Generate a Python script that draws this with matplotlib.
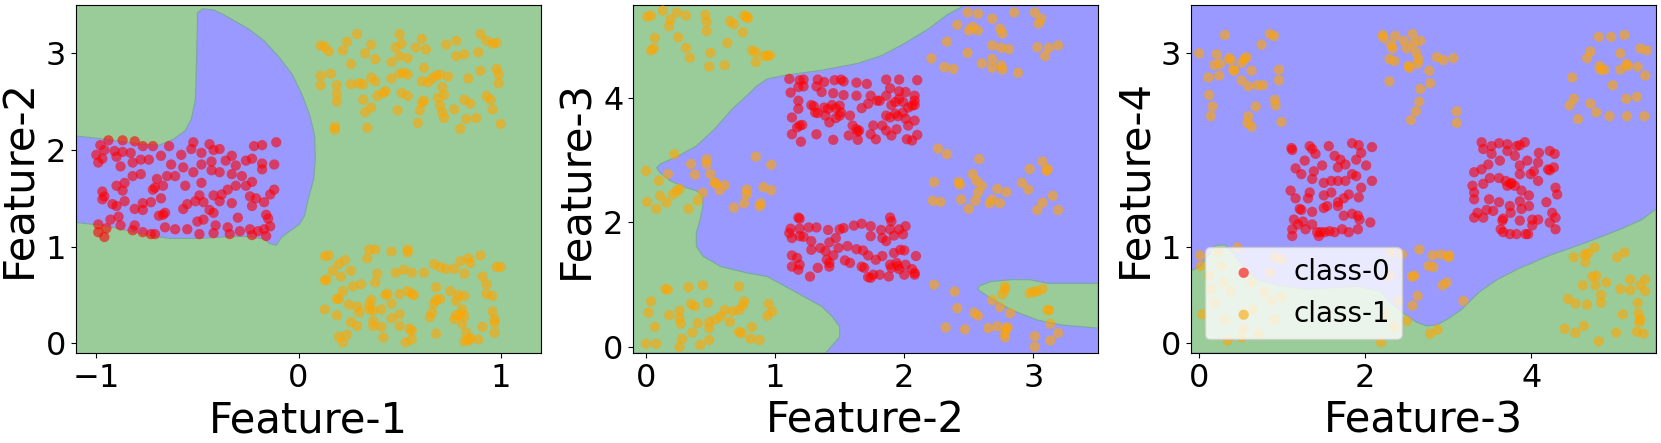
import numpy as np
import matplotlib
matplotlib.use("Agg")
import matplotlib.pyplot as plt

# --- colours ---
GREEN_BG = '#99cc99'   # green at alpha 0.4
BLUE_BG = '#9999ff'    # blue at alpha 0.4
EDGE = '#7aa8a0'

# ---------------- panel 1: Feature-1 vs Feature-2 ----------------
p1_red = [(-0.98,2.05),(-0.94,2.10),(-0.96,2.00),(-1.00,1.95),(-0.99,1.87),(-0.97,1.91),(-0.91,1.99),
          (-0.90,1.93),(-0.87,2.10),(-0.87,1.98),(-0.83,1.97),(-0.81,2.09),(-0.77,2.04),(-0.72,2.04),
          (-0.88,1.83),(-0.82,1.87),(-0.78,1.90),(-0.74,1.90),(-0.68,1.94),(-0.63,1.85),(-0.64,2.04),
          (-0.58,1.95),(-0.53,2.01),(-0.52,2.08),(-0.48,1.97),(-0.44,2.06),(-0.42,2.00),(-0.39,2.01),
          (-0.33,1.94),(-0.36,1.89),(-0.43,1.88),(-0.48,1.85),(-0.52,1.77),(-0.57,1.82),(-0.61,1.73),
          (-0.65,1.73),(-0.70,1.70),(-0.78,1.75),(-0.82,1.73),(-0.86,1.66),(-0.90,1.63),(-0.87,1.58),
          (-0.97,1.57),(-0.97,1.49),(-0.96,1.52),(-0.92,1.44),(-0.90,1.42),(-0.86,1.47),(-0.81,1.39),
          (-0.77,1.45),(-0.73,1.46),(-0.77,1.38),(-0.71,1.61),(-0.67,1.63),(-0.66,1.35),(-0.67,1.33),
          (-0.69,1.32),(-0.57,1.39),(-0.55,1.44),(-0.51,1.47),(-0.49,1.53),(-0.47,1.46),(-0.42,1.53),
          (-0.44,1.38),(-0.39,1.47),(-0.38,1.54),(-0.35,1.59),(-0.31,1.63),(-0.28,1.73),(-0.26,1.63),
          (-0.23,1.67),(-0.26,1.89),(-0.22,2.04),(-0.18,2.05),(-0.23,1.91),(-0.18,1.86),(-0.18,1.80),
          (-0.12,1.85),(-0.11,2.08),(-0.24,1.52),(-0.21,1.50),(-0.17,1.46),(-0.23,1.42),(-0.14,1.54),
          (-0.12,1.59),(-0.16,1.33),(-0.15,1.29),(-0.14,1.21),(-0.17,1.18),(-0.20,1.16),(-0.16,1.11),
          (-0.24,1.18),(-0.23,1.12),(-0.29,1.16),(-0.35,1.20),(-0.34,1.13),(-0.42,1.14),(-0.41,1.22),
          (-0.49,1.13),(-0.50,1.26),(-0.47,1.28),(-0.55,1.18),(-0.61,1.18),(-0.66,1.20),(-0.71,1.13),
          (-0.73,1.13),(-0.77,1.15),(-0.81,1.22),(-0.82,1.17),(-0.88,1.22),(-0.89,1.31),(-0.93,1.28),
          (-0.99,1.23),(-0.99,1.15),(-0.96,1.10),(-0.95,1.19),(-0.30,1.30),(-0.33,1.45),(-0.42,1.35),
          (-0.56,1.63),(-0.48,1.66),(-0.43,1.79),(-0.39,1.77),(-0.33,1.75),(-0.31,1.84),(-0.72,1.59),
          (-0.68,1.50)]
p1_orange_top = [(0.29,3.20),(0.50,3.20),(0.61,3.15),(0.90,3.20),(0.78,3.13),(0.93,3.13),(0.98,3.11),
                 (0.11,3.08),(0.13,3.07),(0.15,3.02),(0.22,3.03),(0.24,3.12),(0.36,3.09),(0.33,3.00),
                 (0.38,2.94),(0.48,3.06),(0.51,3.10),(0.58,3.06),(0.63,3.04),(0.73,3.09),(0.78,2.97),
                 (0.82,2.99),(0.89,3.01),(0.96,3.10),(0.50,2.97),(0.54,2.95),(0.46,2.91),(0.26,2.89),
                 (0.62,2.85),(0.90,2.82),(0.98,2.84),(0.99,2.78),(0.11,2.77),(0.16,2.79),(0.19,2.67),
                 (0.26,2.68),(0.30,2.69),(0.32,2.68),(0.36,2.75),(0.38,2.71),(0.46,2.74),(0.50,2.79),
                 (0.52,2.80),(0.54,2.78),(0.61,2.71),(0.64,2.70),(0.66,2.74),(0.68,2.77),(0.70,2.78),
                 (0.74,2.76),(0.84,2.74),(0.99,2.69),(0.11,2.67),(0.71,2.65),(0.72,2.57),(0.69,2.54),
                 (0.42,2.59),(0.39,2.56),(0.43,2.61),(0.51,2.59),(0.54,2.56),(0.32,2.52),(0.36,2.44),
                 (0.33,2.39),(0.19,2.58),(0.19,2.50),(0.61,2.49),(0.62,2.51),(0.70,2.46),(0.77,2.42),
                 (0.85,2.48),(0.93,2.56),(0.95,2.52),(0.96,2.42),(0.49,2.41),(0.60,2.41),(0.72,2.33),
                 (0.83,2.32),(0.88,2.33),(0.59,2.28),(0.80,2.22),(0.34,2.23),(0.18,2.24),(0.18,2.21),
                 (1.00,2.27),(0.71,2.39),(0.82,2.52)]
p1_orange_bot = [(0.13,0.90),(0.15,0.91),(0.23,0.86),(0.20,0.82),(0.35,0.97),(0.38,0.97),(0.34,0.88),
                 (0.46,0.95),(0.54,0.97),(0.54,0.94),(0.39,0.72),(0.26,0.75),(0.17,0.75),(0.21,0.69),
                 (0.48,0.73),(0.52,0.76),(0.56,0.73),(0.62,0.73),(0.67,0.82),(0.70,0.79),(0.73,0.77),
                 (0.77,0.77),(0.80,0.85),(0.84,0.88),(0.85,0.83),(0.90,0.91),(0.98,0.79),(1.00,0.79),
                 (0.13,0.65),(0.14,0.66),(0.38,0.63),(0.27,0.59),(0.31,0.61),(0.68,0.58),(0.75,0.54),
                 (0.82,0.72),(0.91,0.69),(0.93,0.61),(0.22,0.54),(0.20,0.46),(0.19,0.46),(0.36,0.45),
                 (0.43,0.50),(0.44,0.51),(0.50,0.51),(0.54,0.54),(0.56,0.51),(0.57,0.50),(0.70,0.46),
                 (0.68,0.45),(0.79,0.50),(0.82,0.49),(0.93,0.51),(0.96,0.49),(0.13,0.35),(0.25,0.40),
                 (0.29,0.38),(0.35,0.40),(0.35,0.35),(0.46,0.41),(0.37,0.34),(0.41,0.35),(0.30,0.32),
                 (0.67,0.41),(0.66,0.32),(0.65,0.27),(0.78,0.44),(0.81,0.35),(0.80,0.30),(0.82,0.28),
                 (0.78,0.29),(0.96,0.33),(0.97,0.25),(0.97,0.21),(0.19,0.29),(0.26,0.22),(0.29,0.18),
                 (0.37,0.23),(0.37,0.18),(0.41,0.17),(0.50,0.30),(0.46,0.26),(0.50,0.18),(0.55,0.15),
                 (0.56,0.13),(0.77,0.25),(0.81,0.20),(0.91,0.17),(0.97,0.11),(0.20,0.07),(0.22,0.01),
                 (0.24,0.09),(0.42,0.06),(0.53,0.01),(0.56,0.04),(0.68,0.10),(0.83,0.11),(0.84,0.03),
                 (0.82,0.02),(0.89,0.04),(0.85,0.05)]
# boundary of the class-0 (blue) region
p1_blue_region = [(-1.1,2.145),(-0.95,2.11),(-0.78,2.06),(-0.69,2.05),(-0.62,2.11),(-0.56,2.20),
                  (-0.53,2.32),(-0.51,2.52),(-0.505,2.87),(-0.50,3.30),(-0.50,3.42),(-0.475,3.46),
                  (-0.42,3.45),(-0.37,3.40),(-0.245,3.25),(-0.17,3.13),(-0.10,2.97),(-0.03,2.78),
                  (0.02,2.56),(0.057,2.35),(0.08,2.145),(0.083,1.90),(0.075,1.70),(0.048,1.49),
                  (0.03,1.32),(0.004,1.23),(-0.05,1.15),(-0.085,1.095),(-0.11,1.015),(-0.14,1.03),
                  (-0.17,1.08),(-0.245,1.105),(-0.33,1.105),(-0.49,1.085),(-0.635,1.085),(-0.705,1.105),
                  (-0.81,1.15),(-0.95,1.215),(-1.1,1.25)]

# ---------------- panel 2: Feature-2 vs Feature-3 ----------------
p2_red_top = [(1.11,4.31),(1.19,4.29),(1.22,4.30),(1.33,4.30),(1.38,4.26),(1.46,4.29),(1.51,4.30),
              (1.53,4.27),(1.63,4.25),(1.71,4.23),(1.86,4.30),(1.96,4.30),(2.10,4.29),(1.12,4.09),
              (1.18,4.18),(1.22,4.19),(1.32,4.19),(1.36,4.10),(1.45,4.08),(1.53,4.05),(1.63,4.04),
              (1.74,4.04),(1.79,3.96),(1.86,4.04),(1.89,4.16),(1.96,4.11),(2.01,4.10),(2.08,4.04),
              (2.08,3.96),(1.18,3.96),(1.18,3.83),(1.28,3.89),(1.30,3.87),(1.38,3.85),(1.41,3.83),
              (1.44,3.89),(1.47,3.84),(1.50,3.88),(1.51,3.77),(1.58,3.72),(1.67,3.84),(1.72,3.91),
              (1.81,3.96),(1.90,3.89),(1.93,3.94),(1.96,3.99),(1.99,3.94),(2.03,3.85),(2.06,3.88),
              (2.08,3.89),(1.13,3.69),(1.19,3.56),(1.17,3.53),(1.21,3.57),(1.31,3.77),(1.33,3.76),
              (1.39,3.72),(1.42,3.61),(1.47,3.68),(1.50,3.72),(1.60,3.56),(1.63,3.50),(1.65,3.48),
              (1.76,3.56),(1.83,3.56),(1.86,3.72),(1.89,3.69),(1.93,3.75),(1.95,3.71),(1.99,3.77),
              (2.01,3.67),(2.03,3.56),(2.08,3.64),(1.13,3.42),(1.20,3.30),(1.32,3.42),(1.45,3.33),
              (1.57,3.40),(1.64,3.46),(1.64,3.33),(1.74,3.42),(1.78,3.34),(1.86,3.48),(1.90,3.40),
              (1.94,3.50),(2.02,3.34),(2.06,3.32),(2.10,3.41)]
p2_red_bot = [(1.18,2.08),(1.19,2.06),(1.89,2.08),(1.90,2.02),(1.12,1.90),(1.19,1.90),(1.11,1.83),
              (1.13,1.75),(1.19,1.78),(1.26,1.92),(1.32,1.92),(1.41,1.88),(1.50,1.89),(1.53,1.91),
              (1.61,1.95),(1.67,1.98),(1.74,1.94),(1.82,1.88),(1.89,1.89),(1.96,1.89),(2.01,1.94),
              (1.22,1.77),(1.28,1.70),(1.35,1.59),(1.42,1.68),(1.47,1.75),(1.49,1.59),(1.56,1.62),
              (1.63,1.57),(1.68,1.55),(1.74,1.78),(1.83,1.75),(1.86,1.70),(1.92,1.79),(1.99,1.81),
              (1.97,1.56),(1.92,1.51),(2.00,1.55),(1.13,1.47),(1.17,1.43),(1.28,1.56),(1.39,1.54),
              (1.40,1.40),(1.42,1.29),(1.45,1.47),(1.54,1.39),(1.58,1.35),(1.67,1.29),(1.72,1.47),
              (1.78,1.40),(1.83,1.46),(1.89,1.32),(1.94,1.35),(1.95,1.30),(2.01,1.32),(2.09,1.46),
              (1.13,1.29),(1.18,1.24),(1.19,1.32),(1.27,1.13),(1.33,1.27),(1.42,1.35),(1.69,1.27),
              (1.72,1.12),(1.74,1.11),(1.76,1.16),(1.81,1.16),(1.88,1.13),(1.90,1.27),(1.96,1.25),
              (2.00,1.16),(2.06,1.25),(2.08,1.16),(2.08,1.19)]
p2_orange_tl = [(0.01,5.31),(0.04,5.33),(0.13,5.41),(0.24,5.38),(0.31,5.33),(0.19,5.27),(0.18,5.16),
                (0.25,4.98),(0.07,4.97),(0.04,4.77),(0.06,4.80),(0.31,4.81),(0.34,4.65),(0.46,5.34),
                (0.47,5.23),(0.47,5.08),(0.50,4.73),(0.49,4.51),(0.61,4.53),(0.63,4.89),(0.65,5.24),
                (0.68,5.19),(0.75,5.06),(0.78,5.31),(0.79,5.29),(0.76,5.33),(0.82,4.77),(0.85,4.74),
                (0.85,4.58),(0.92,4.68),(0.94,4.68),(0.96,4.69)]
p2_orange_ml = [(0.00,2.83),(0.01,2.33),(0.10,2.67),(0.11,2.43),(0.08,2.22),(0.16,2.32),(0.17,2.78),
                (0.21,2.45),(0.22,3.10),(0.24,2.51),(0.26,2.54),(0.33,2.22),(0.35,2.94),(0.38,2.77),
                (0.40,2.35),(0.44,2.48),(0.47,3.02),(0.47,2.94),(0.50,2.78),(0.53,2.64),(0.54,2.63),
                (0.57,2.52),(0.61,2.60),(0.68,2.24),(0.76,2.31),(0.78,2.53),(0.78,2.45),(0.85,3.06),
                (0.88,2.26),(0.89,2.31),(0.91,2.57),(0.97,2.52),(0.97,2.93)]
p2_orange_bl = [(0.04,0.73),(0.02,0.55),(0.07,0.32),(0.00,0.05),(0.08,0.05),(0.15,0.93),(0.17,0.92),
                (0.18,0.51),(0.26,0.58),(0.26,0.46),(0.27,0.37),(0.26,0.00),(0.28,0.13),(0.33,0.96),
                (0.35,0.69),(0.38,0.65),(0.36,0.23),(0.40,0.38),(0.42,0.03),(0.44,0.99),(0.48,0.71),
                (0.49,0.40),(0.49,0.30),(0.49,0.11),(0.54,0.44),(0.58,0.49),(0.61,0.59),(0.65,0.40),
                (0.67,0.57),(0.72,0.59),(0.72,0.97),(0.72,0.24),(0.75,0.66),(0.76,0.73),(0.74,0.22),
                (0.82,0.32),(0.81,0.13),(0.88,0.11),(0.94,0.50),(0.95,0.69),(0.98,0.57)]
p2_orange_tr = [(2.49,5.38),(2.57,5.36),(2.68,5.28),(2.85,5.38),(3.01,5.38),(3.06,5.28),(3.04,5.20),
                (2.41,5.18),(2.50,5.09),(2.53,5.15),(2.57,5.09),(2.74,5.12),(2.76,5.04),(2.33,4.91),
                (2.68,4.85),(2.75,4.81),(2.81,4.79),(3.03,4.82),(3.12,4.81),(3.19,4.85),(2.21,4.64),
                (2.49,4.73),(2.60,4.56),(2.68,4.63),(2.68,4.49),(2.75,4.53),(2.76,4.46),(2.88,4.41),
                (3.09,4.68),(2.31,4.50),(2.38,4.47)]
p2_orange_mr = [(2.26,3.19),(2.33,3.10),(2.58,3.02),(2.23,2.65),(2.42,2.65),(2.43,2.61),(2.53,2.78),
                (2.56,2.67),(2.60,2.59),(2.57,2.48),(2.55,2.35),(2.50,2.22),(2.44,2.37),(2.22,2.35),
                (2.28,2.33),(2.66,2.31),(2.68,2.37),(2.72,2.54),(2.74,2.31),(2.79,2.49),(2.91,2.64),
                (2.96,2.53),(2.97,2.86),(3.07,2.98),(3.11,2.86),(3.10,2.83),(3.15,2.43),(3.19,2.20),
                (3.07,2.32),(3.03,2.20)]
p2_orange_br = [(2.23,1.00),(2.39,0.89),(2.41,0.62),(2.32,0.31),(2.47,0.28),(2.54,0.55),(2.57,0.50),
                (2.65,0.30),(2.68,0.75),(2.72,0.33),(2.74,0.64),(2.76,0.84),(2.78,0.92),(2.78,0.97),
                (2.80,0.31),(2.78,0.22),(2.78,0.15),(2.82,0.54),(2.97,0.86),(3.00,0.89),(3.03,0.89),
                (3.07,0.93),(3.11,0.59),(3.12,0.59),(3.13,0.37),(3.01,0.17),(3.01,0.00),(3.13,0.10),
                (3.19,0.22),(2.79,0.30)]
# class-1 (green) regions, the rest is blue
p2_green_left = [(-0.1,5.5),(2.47,5.5),(2.33,5.34),(2.19,5.12),(2.0,4.88),(1.83,4.69),(1.64,4.56),
                 (1.36,4.45),(1.08,4.37),(0.94,4.31),(0.86,4.20),(0.78,4.04),(0.67,3.83),(0.53,3.50),
                 (0.39,3.23),(0.25,3.07),(0.11,2.94),(0.083,2.88),(0.11,2.80),(0.19,2.67),(0.31,2.56),
                 (0.39,2.51),(0.44,2.43),(0.44,2.26),(0.42,2.05),(0.39,1.83),(0.39,1.62),(0.44,1.46),
                 (0.58,1.29),(0.78,1.19),(0.94,1.13),(1.08,0.97),(1.22,0.81),(1.36,0.65),(1.44,0.49),
                 (1.50,0.32),(1.50,0.16),(1.39,-0.1),(-0.1,-0.1)]
p2_green_right = [(3.5,1.02),(3.11,1.02),(2.97,1.08),(2.83,1.08),(2.67,1.05),(2.58,0.98),(2.57,0.92),
                  (2.67,0.78),(2.83,0.59),(3.03,0.43),(3.22,0.35),(3.5,0.30)]

# ---------------- panel 3: Feature-3 vs Feature-4 ----------------
p3_red_left = [(1.11,2.02),(1.12,2.00),(1.33,2.04),(1.36,2.01),(1.56,2.04),(1.84,2.07),(1.92,2.05),
               (2.08,2.03),(1.16,1.81),(1.27,1.89),(1.40,1.96),(1.48,1.84),(1.63,1.94),(1.67,1.82),
               (1.70,1.90),(1.76,1.85),(1.89,1.90),(1.95,1.97),(2.01,1.84),(1.23,1.75),(1.36,1.70),
               (1.38,1.78),(1.50,1.66),(1.59,1.68),(1.67,1.68),(1.76,1.68),(1.84,1.75),(1.89,1.73),
               (1.95,1.61),(2.08,1.68),(1.10,1.58),(1.16,1.50),(1.31,1.50),(1.33,1.56),(1.50,1.53),
               (1.59,1.56),(1.67,1.46),(1.74,1.50),(1.80,1.54),(1.92,1.51),(1.21,1.39),(1.23,1.38),
               (1.14,1.28),(1.19,1.23),(1.36,1.36),(1.50,1.40),(1.54,1.42),(1.67,1.42),(1.74,1.32),
               (1.84,1.34),(1.91,1.32),(1.93,1.28),(1.12,1.18),(1.25,1.26),(1.36,1.23),(1.46,1.15),
               (1.51,1.15),(1.57,1.16),(1.63,1.15),(1.72,1.18),(1.80,1.15),(1.91,1.18),(2.06,1.25),
               (1.12,1.11),(1.44,1.11),(1.28,1.18),(1.42,1.15)]
p3_red_right = [(3.40,2.08),(3.42,2.01),(3.52,2.04),(3.61,2.07),(3.71,2.06),(3.71,1.99),(3.82,2.04),
                (3.92,2.08),(3.86,2.05),(3.52,1.96),(3.48,1.85),(3.62,1.89),(3.80,1.94),(3.86,1.84),
                (3.95,1.89),(4.08,1.87),(4.09,1.97),(4.22,1.99),(4.28,1.96),(3.31,1.77),(3.40,1.80),
                (3.50,1.71),(3.61,1.71),(3.69,1.68),(3.76,1.66),(3.86,1.75),(3.99,1.75),(4.03,1.78),
                (4.20,1.80),(4.27,1.82),(4.22,1.79),(3.29,1.63),(3.31,1.56),(3.42,1.65),(3.49,1.49),
                (3.61,1.46),(3.71,1.63),(3.75,1.65),(3.80,1.63),(3.88,1.58),(3.97,1.53),(4.08,1.68),
                (4.29,1.61),(4.31,1.54),(3.31,1.49),(3.35,1.35),(3.42,1.30),(3.46,1.38),(3.54,1.37),
                (3.66,1.29),(3.74,1.42),(3.75,1.35),(3.86,1.47),(3.88,1.39),(3.97,1.42),(4.01,1.28),
                (4.18,1.46),(4.25,1.35),(4.29,1.30),(3.31,1.30),(3.63,1.18),(3.66,1.15),(3.74,1.13),
                (3.82,1.13),(3.93,1.13),(3.96,1.13),(4.01,1.22),(4.08,1.28),(4.22,1.25),(4.29,1.18),
                (3.65,1.27),(3.86,1.27)]
p3_orange_tl = [(0.00,3.00),(0.21,2.99),(0.31,3.19),(0.36,2.95),(0.38,2.93),(0.41,2.83),(0.42,2.82),
                (0.51,2.90),(0.54,2.94),(0.57,2.96),(0.63,2.82),(0.51,2.72),(0.59,2.66),(0.70,2.67),
                (0.77,2.67),(0.75,3.09),(0.85,3.20),(0.90,3.18),(0.96,2.83),(0.96,2.72),(0.91,2.52),
                (0.92,2.46),(0.99,2.29),(0.18,2.88),(0.25,2.89),(0.24,2.77),(0.11,2.75),(0.12,2.57),
                (0.16,2.45),(0.14,2.35),(0.59,2.35),(0.58,2.28),(0.63,2.24),(0.68,2.45)]
p3_orange_tm = [(2.21,3.19),(2.22,3.16),(2.36,3.18),(2.46,3.13),(2.57,3.20),(2.58,3.10),(2.66,3.13),
                (2.31,3.09),(2.33,3.05),(2.50,3.05),(2.61,3.01),(2.64,2.94),(2.29,2.94),(2.35,2.92),
                (2.52,2.87),(2.53,2.85),(2.63,2.89),(2.77,2.82),(2.86,2.96),(2.94,2.93),(3.06,2.95),
                (2.29,2.71),(2.66,2.63),(2.78,2.69),(2.65,2.50),(2.61,2.40),(2.55,2.31),(3.10,2.40),
                (3.10,2.28)]
p3_orange_tr = [(4.81,3.17),(4.96,3.17),(5.12,3.19),(4.71,3.02),(4.67,2.95),(4.82,2.87),(4.83,2.83),
                (4.88,2.83),(5.07,3.00),(5.07,2.83),(5.14,2.89),(5.16,2.87),(5.28,2.86),(5.31,3.05),
                (5.39,3.03),(5.37,2.77),(4.49,2.75),(4.51,2.53),(4.46,2.46),(4.56,2.32),(4.71,2.48),
                (4.78,2.39),(4.94,2.35),(4.98,2.67),(5.14,2.53),(5.15,2.35),(5.27,2.55),(5.36,2.35)]
p3_orange_bl = [(0.01,0.91),(0.02,0.80),(0.04,0.30),(0.34,0.03),(0.51,0.06),(0.72,0.10),(0.46,0.99),
                (0.23,0.94),(0.27,0.80),(0.29,0.63),(0.38,0.54),(0.63,0.63),(0.85,0.73),(0.91,0.89),
                (0.99,0.87),(0.87,0.44),(0.99,0.48),(0.91,0.25),(0.12,0.70),(0.14,0.56),(0.19,0.42),
                (0.31,0.25),(0.53,0.15),(0.65,0.35),(0.78,0.53)]
p3_orange_bm = [(2.65,0.97),(2.81,0.91),(2.91,0.92),(3.01,0.91),(3.00,0.89),(2.76,0.80),(2.82,0.79),
                (2.56,0.69),(2.59,0.70),(2.93,0.60),(2.98,0.63),(2.63,0.49),(3.18,0.44),(2.50,0.23),
                (2.19,0.01),(2.87,0.14),(2.78,0.10),(2.31,0.94),(2.44,0.92),(2.29,0.70),(2.40,0.44),
                (2.35,0.17),(2.23,0.30),(2.57,0.39)]
p3_orange_br = [(4.76,0.99),(4.51,0.89),(4.64,0.92),(4.68,0.93),(4.65,0.84),(5.03,0.89),(5.12,0.94),
                (4.73,0.69),(4.78,0.70),(4.90,0.63),(4.62,0.60),(4.77,0.60),(4.84,0.50),(4.84,0.42),
                (4.44,0.46),(4.53,0.41),(4.67,0.40),(5.07,0.56),(5.19,0.66),(5.19,0.55),(5.31,0.60),
                (5.37,0.66),(5.37,0.54),(5.28,0.42),(5.29,0.31),(5.31,0.25),(5.30,0.22),(5.10,0.30),
                (4.63,0.18),(4.53,0.11),(4.40,0.15),(4.81,0.02),(5.02,0.11),(5.27,0.12),(5.35,0.10)]
p3_green_bottom = [(-0.1,-0.1),(-0.1,0.75),(0.02,0.80),(0.19,1.01),(0.31,1.02),(0.40,0.94),(0.53,0.80),
                   (0.70,0.66),(0.95,0.60),(1.29,0.56),(1.89,0.59),(2.18,0.54),(2.31,0.42),(2.48,0.30),
                   (2.61,0.22),(2.74,0.18),(2.86,0.19),(2.99,0.25),(3.16,0.35),(3.37,0.53),(3.59,0.66),
                   (3.84,0.77),(4.22,0.91),(4.65,1.04),(5.07,1.18),(5.33,1.28),(5.5,1.39),(5.5,-0.1)]

panels = [
    dict(xlabel='Feature-1', ylabel='Feature-2', xlim=(-1.1, 1.2), ylim=(-0.1, 3.5),
         xticks=[-1, 0, 1], yticks=[0, 1, 2, 3], bg=GREEN_BG,
         regions=[(p1_blue_region, BLUE_BG)],
         red=[p1_red], orange=[p1_orange_top, p1_orange_bot]),
    dict(xlabel='Feature-2', ylabel='Feature-3', xlim=(-0.1, 3.5), ylim=(-0.1, 5.5),
         xticks=[0, 1, 2, 3], yticks=[0, 2, 4], bg=BLUE_BG,
         regions=[(p2_green_left, GREEN_BG), (p2_green_right, GREEN_BG)],
         red=[p2_red_top, p2_red_bot],
         orange=[p2_orange_tl, p2_orange_ml, p2_orange_bl, p2_orange_tr, p2_orange_mr, p2_orange_br]),
    dict(xlabel='Feature-3', ylabel='Feature-4', xlim=(-0.1, 5.5), ylim=(-0.1, 3.5),
         xticks=[0, 2, 4], yticks=[0, 1, 3], bg=BLUE_BG,
         regions=[(p3_green_bottom, GREEN_BG)],
         red=[p3_red_left, p3_red_right],
         orange=[p3_orange_tl, p3_orange_tm, p3_orange_tr, p3_orange_bl, p3_orange_bm, p3_orange_br]),
]

fig = plt.figure(figsize=(16.61, 4.43), dpi=100)
lefts = [0.0458, 0.3811, 0.7170]

for i, p in enumerate(panels):
    ax = fig.add_axes([lefts[i], 0.2032, 0.2800, 0.7855])
    ax.set_facecolor(p['bg'])
    for poly, col in p['regions']:
        pts = np.array(poly)
        ax.fill(pts[:, 0], pts[:, 1], facecolor=col, edgecolor=EDGE, linewidth=0.8, zorder=1)

    red = np.vstack([np.array(c) for c in p['red']])
    orange = np.vstack([np.array(c) for c in p['orange']])
    ax.scatter(red[:, 0], red[:, 1], s=55, color='red', alpha=0.6, edgecolors='none',
               label='class-0', zorder=3)
    ax.scatter(orange[:, 0], orange[:, 1], s=55, color='orange', alpha=0.6, edgecolors='none',
               label='class-1', zorder=3)

    ax.set_xlim(*p['xlim'])
    ax.set_ylim(*p['ylim'])
    ax.set_xticks(p['xticks'])
    ax.set_yticks(p['yticks'])
    ax.tick_params(labelsize=23)
    ax.set_xlabel(p['xlabel'], fontsize=30)
    ax.set_ylabel(p['ylabel'], fontsize=30)

    if i == 2:
        ax.legend(loc='lower left', fontsize=20)

fig.savefig('out.png', dpi=100)
